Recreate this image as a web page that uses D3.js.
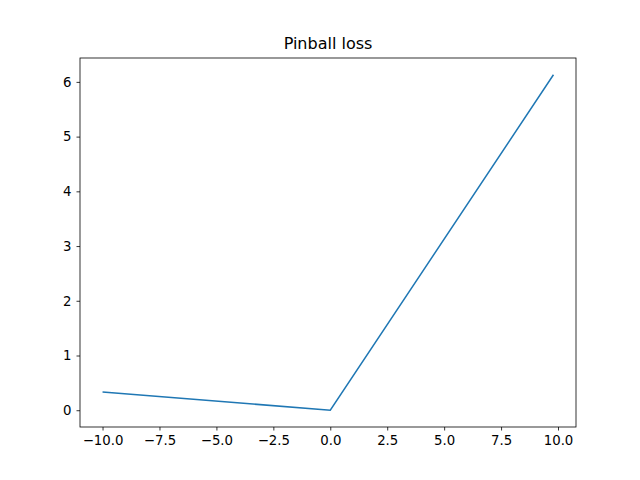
<!DOCTYPE html>
<html><head><meta charset="utf-8">
<script src="https://cdn.jsdelivr.net/npm/d3@7"></script>
<style>body{margin:0;background:#fff}text{font-family:"DejaVu Sans",sans-serif}</style>
</head><body><div id="chart"></div>
<script>
const xs = [-10, 0, 9.8];
const ys = [0.333, 0, 6.13];
const xTicks = [-10, -7.5, -5, -2.5, 0, 2.5, 5, 7.5, 10];
const yTicks = [0, 1, 2, 3, 4, 5, 6];
const title = 'Pinball loss';

const W = 640, H = 480, L = 80, R = 576, T = 58, B = 427;
const svg = d3.select('#chart').append('svg').attr('width', W).attr('height', H);

const xPad = (d3.max(xs) - d3.min(xs)) * 0.05, yPad = (d3.max(ys) - d3.min(ys)) * 0.05;
const x = d3.scaleLinear().domain([d3.min(xs) - xPad, d3.max(xs) + xPad]).range([L, R]);
const y = d3.scaleLinear().domain([d3.min(ys) - yPad, d3.max(ys) + yPad]).range([B, T]);

svg.append('path').datum(xs.map((d, i) => [d, ys[i]]))
  .attr('fill', 'none').attr('stroke', '#1f77b4').attr('stroke-width', 1.5)
  .attr('d', d3.line().x(d => x(d[0])).y(d => y(d[1])));

const xa = svg.append('g').attr('transform', `translate(0,${B})`)
  .call(d3.axisBottom(x).tickValues(xTicks).tickFormat(d3.format('.1f')).tickSizeOuter(0).tickSize(3.5).tickPadding(5));
const ya = svg.append('g').attr('transform', `translate(${L},0)`)
  .call(d3.axisLeft(y).tickValues(yTicks).tickFormat(d3.format('d')).tickSizeOuter(0).tickSize(3.5).tickPadding(5));
[xa, ya].forEach(g => {
  g.select('.domain').remove();
  g.selectAll('text').attr('font-size', 13.3).attr('fill', '#000').style('font-family', '"DejaVu Sans"');
  g.selectAll('line').attr('stroke', '#000').attr('stroke-width', 0.8);
});

svg.append('rect').attr('x', L).attr('y', T).attr('width', R - L).attr('height', B - T)
  .attr('fill', 'none').attr('stroke', '#000').attr('stroke-width', 0.8);

svg.append('text').attr('x', (L + R) / 2).attr('y', T - 9).attr('text-anchor', 'middle')
  .attr('font-size', 16).text(title);
</script></body></html>
